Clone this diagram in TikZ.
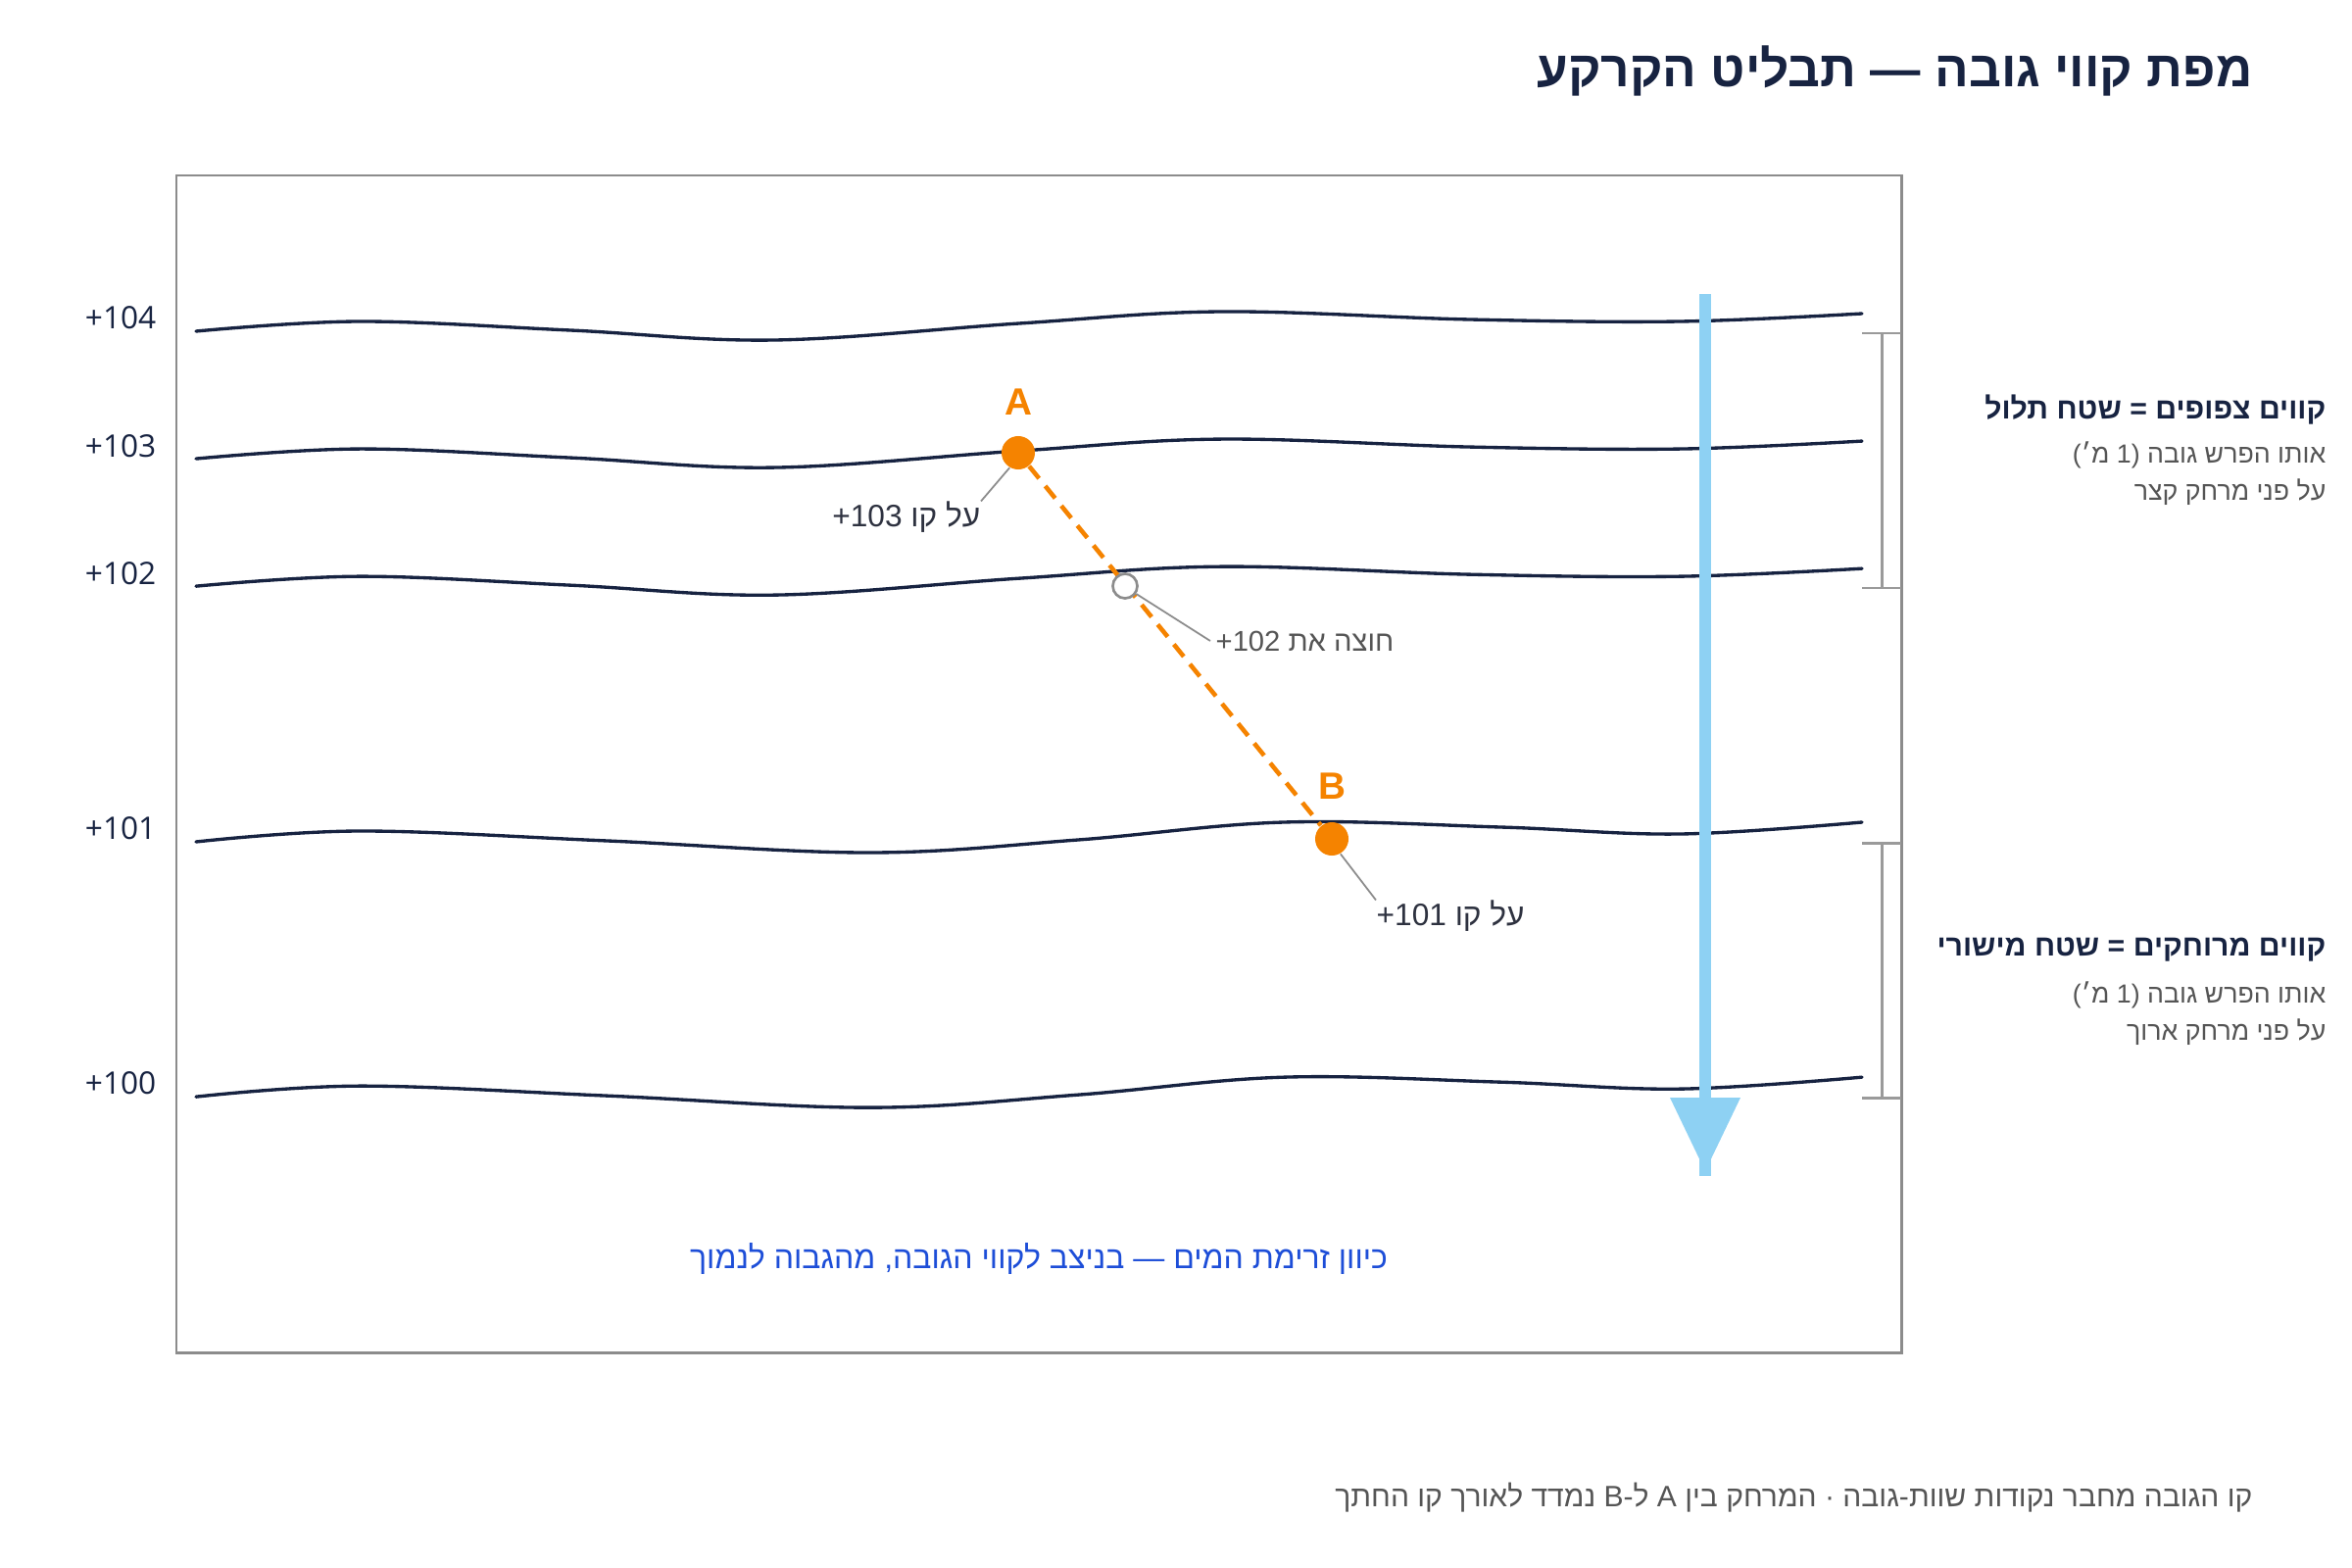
\documentclass[tikz,border=0pt]{standalone}
\usepackage{fontspec}
\setmainfont{Liberation Sans}
\newfontfamily\hebfont[Script=Hebrew]{Liberation Sans}
\newfontfamily\numfont{Open Sans}
\TeXXeTstate=1
\newcommand\hebtxt[1]{{\hebfont\beginR #1\endR}}
\newcommand\plusnum[1]{\beginL +\kern0pt #1\endL}
\definecolor{navy}{HTML}{172341}
\definecolor{accent}{HTML}{F58300}
\definecolor{flow}{HTML}{8ED1F3}
\definecolor{framegray}{HTML}{8C8C8C}
\definecolor{brackgray}{HTML}{9A9A9A}
\definecolor{textgray}{HTML}{555555}
\definecolor{notedark}{HTML}{2E3240}
\definecolor{capblue}{HTML}{1D4ED8}
\begin{document}
\begin{tikzpicture}[x=0.01cm,y=-0.01cm,
  contour/.style={draw=navy,line width=0.95pt,line cap=round},
  pt/.style={circle,fill=accent,minimum size=0.34cm,inner sep=0},
  hollow/.style={circle,draw=framegray,fill=white,line width=0.75pt,minimum size=0.25cm,inner sep=0},
  ptlabel/.style={text=accent,font=\bfseries\fontsize{11}{13}\selectfont,inner sep=0},
  leader/.style={draw=framegray,line width=0.5pt},
  elev/.style={text=navy,font=\numfont\fontsize{9}{11}\selectfont,anchor=east,inner sep=0},
  note/.style={text=notedark,font=\fontsize{9}{11}\selectfont,inner sep=0},
  brack/.style={draw=brackgray,line width=0.85pt},
  head/.style={text=navy,font=\bfseries\fontsize{8.6}{10}\selectfont,anchor=east,inner sep=0},
  sub/.style={text=textgray,font=\fontsize{7.6}{9}\selectfont,anchor=east,inner sep=0}]
\useasboundingbox (0,0) rectangle (2400,1600);
\fill[white] (0,0) rectangle (2400,1600);

% title
\node[text=navy,font=\bfseries\fontsize{14.6}{18}\selectfont,anchor=east,inner sep=0] (title) at (2299,72)
  {\hebtxt{מפת קווי גובה — תבליט הקרקע}};

% frame
\draw[draw=framegray,line width=0.85pt] (180,179) rectangle (1940,1380);

% contour lines, top group (104, 103, 102)
\foreach \s in {0,-1.30,-2.60}{
  \draw[contour,yshift=\s cm] plot[smooth,tension=0.6] coordinates
   {(200,338) (367,328) (582,337) (790,347) (1040,330) (1246,318) (1500,326) (1714,328) (1900,320)};
}
% bottom group (101, 100)
\foreach \s in {0,-2.60}{
  \draw[contour,yshift=\s cm] plot[smooth,tension=0.6] coordinates
   {(200,859) (367,848) (620,858) (888,870) (1100,857) (1310,839) (1531,844) (1714,851) (1900,839)};
}

% elevation labels
\node[elev] (e104) at (160,324) {+104};
\node[elev] (e103) at (160,455) {+103};
\node[elev] (e102) at (160,585) {+102};
\node[elev] (e101) at (160,845) {+101};
\node[elev] (e100) at (160,1105) {+100};

% flow arrow
\coordinate (flowtop) at (1740,300);
\coordinate (flowbot) at (1740,1200);
\draw[draw=flow,line width=0.12cm] (flowtop) -- (flowbot);
\fill[flow] (1704,1120) -- (1776,1120) -- (1740,1195) -- cycle;

% brackets
\draw[brack] (1900,340) -- (1940,340) (1900,600) -- (1940,600) (1920,340) -- (1920,600);
\draw[brack] (1900,860) -- (1940,860) (1900,1120) -- (1940,1120) (1920,860) -- (1920,1120);

% points and dashed path
\node[pt] (A) at (1039,462) {};
\node[pt] (B) at (1359,856) {};
\draw[accent,line width=1.3pt,dash pattern=on 0.16cm off 0.10cm] (A) -- (B);
\node[hollow] (M) at (1148,598) {};
\node[ptlabel] (lA) at (1039,410) {A};
\node[ptlabel] (lB) at (1359,802) {B};

% annotations
\node[note,anchor=east] (nA) at (1001,528) {\hebtxt{על קו \plusnum{103}}};
\node[note,anchor=west,text=textgray,font=\fontsize{8.3}{10}\selectfont] (nM) at (1240,654) {\hebtxt{חוצה את \plusnum{102}}};
\node[note,anchor=west] (nB) at (1404,935) {\hebtxt{על קו \plusnum{101}}};
\draw[leader] (A.240) -- (nA.north east);
\draw[leader] (M.-35) -- ([xshift=-0.05cm]nM.west);
\draw[leader] (B.-60) -- (nB.north west);

% side explanations
\node[head] (h1) at (2374,418) {\hebtxt{קווים צפופים = שטח תלול}};
\node[sub] (s1a) at (2374,464) {\hebtxt{אותו הפרש גובה (1 מ׳)}};
\node[sub] (s1b) at (2374,502) {\hebtxt{על פני מרחק קצר}};
\node[head] (h2) at (2374,969) {\hebtxt{קווים מרוחקים = שטח מישורי}};
\node[sub] (s2a) at (2374,1015) {\hebtxt{אותו הפרש גובה (1 מ׳)}};
\node[sub] (s2b) at (2374,1053) {\hebtxt{על פני מרחק ארוך}};

% caption and footer
\node[text=capblue,font=\fontsize{9.1}{11}\selectfont,inner sep=0] (cap) at (1060,1284)
  {\hebtxt{כיוון זרימת המים — בניצב לקווי הגובה, מהגבוה לנמוך}};
\node[text=textgray,font=\fontsize{8.55}{10}\selectfont,anchor=east,inner sep=0] (foot) at (2299,1528)
  {\hebtxt{קו הגובה מחבר נקודות שוות-גובה · המרחק בין A ל-B נמדד לאורך קו החתך}};
\end{tikzpicture}
\end{document}
